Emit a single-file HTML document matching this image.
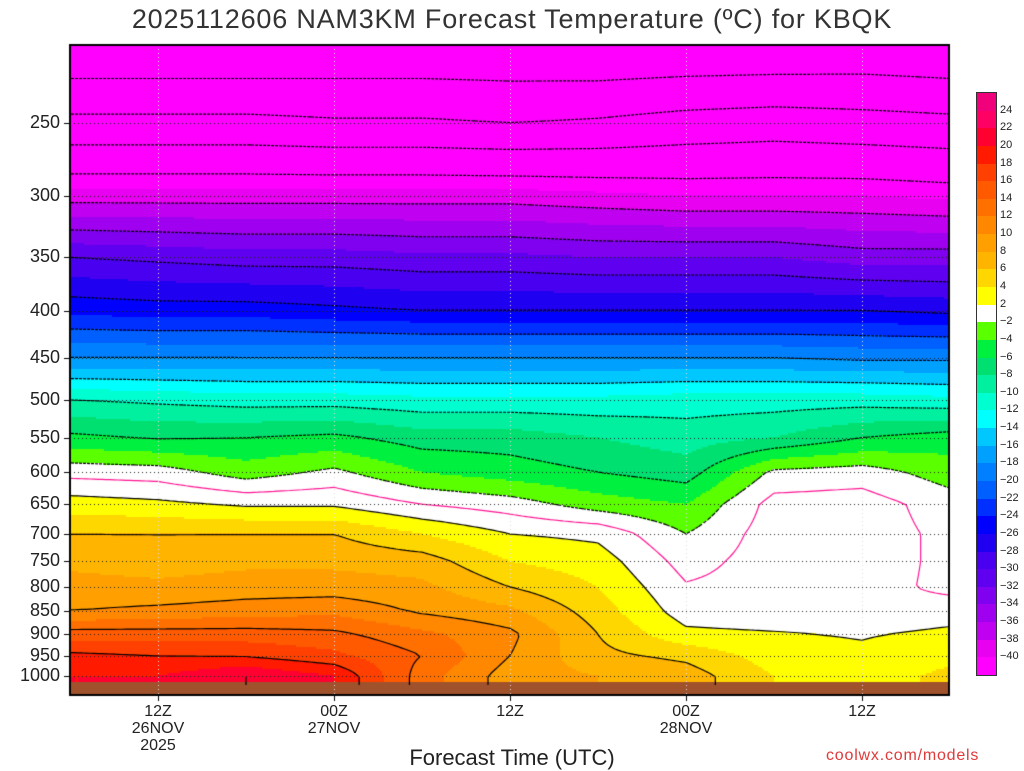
<!DOCTYPE html>
<html><head><meta charset="utf-8">
<style>
body{margin:0;background:#fff;width:1024px;height:768px;overflow:hidden;position:relative;font-family:"Liberation Sans",sans-serif}
.t{position:absolute;white-space:nowrap}
.yl{position:absolute;left:0;width:60px;text-align:right;font-size:18px;color:#222}
.xl{position:absolute;width:100px;text-align:center;font-size:16px;line-height:17px;color:#222}
</style></head><body>
<div class="t" style="left:0;width:1024px;text-align:center;top:4px;font-size:27px;color:#333;letter-spacing:0.8px">2025112606 NAM3KM Forecast Temperature (ºC) for KBQK</div>
<canvas id="cv" width="1024" height="768" style="position:absolute;left:0;top:0"></canvas>
<div id="labels"></div>
<div class="t" style="left:0;width:1024px;text-align:center;top:745px;font-size:22px;color:#222">Forecast Time (UTC)</div>
<div class="t" style="left:826px;top:747px;font-size:16px;color:#e03a3a;letter-spacing:0.8px">coolwx.com/models</div>
<div id="cbar"></div>
<script>
const levels=[1000,950,900,850,800,750,700,650,600,550,500,450,400,350,300,250,200];
const hours=[0,6,12,18,24,30,36,42,48,54,60];
const T1000=[20,20,22,20,13,9,8,7,4,3,4.5];
const T950=[18.5,18,17.8,16.5,14,10,6.5,5.5,3,2.5,3.5];
const T900=[15,15,15,14.5,12.5,10.5,6,2.5,2.2,1.8,2.5];
const T850=[10,10.5,11,11.5,9.7,8.5,5,1,0.6,0.3,1];
const T800=[8.8,8.5,9,9,8.5,6,4,0.2,0.8,0.8,-0.5];
const T750=[7.5,7,7.5,7.5,7,4,3,-0.8,1,1,-0.5];
const T700=[6,6,6,6,4,2,1.5,-2,1,1,-0.5];
const T650=[3,2.5,1.7,1.7,0,-1,-3,-4,0.8,1,-1];
const T600=[-0.7,-1,-3,-1.5,-4,-5,-6,-7,-1.5,-1,-3];
const T550=[-5.5,-6.2,-6,-5.5,-7,-7,-8,-9,-8,-6,-5];
const T500=[-10,-10.5,-11,-11,-11.5,-11.5,-11.5,-11,-11,-11,-11.5];
const T450=[-18,-18,-18,-18,-18,-18,-18,-18,-18,-18.5,-18.5];
const T400=[-24.6,-25,-25,-25.5,-26,-26,-26,-26,-26,-26,-26.5];
const T350=[-30,-30.5,-31,-31,-31.5,-31.5,-32,-32,-32,-33,-33];
const T300=[-39,-39,-39,-39,-39,-39,-39.5,-40,-40,-40,-40.5];
const T250=[-49,-49,-49,-49.5,-49.5,-50,-49.5,-48.5,-48,-48.5,-49];
const T200=[-59,-59,-59,-58.5,-58.5,-58.5,-59,-59,-59,-58.5,-59];
const field=[T1000,T950,T900,T850,T800,T750,T700,T650,T600,T550,T500,T450,T400,T350,T300,T250,T200];
const yTicks=[250,300,350,400,450,500,550,600,650,700,750,800,850,900,950,1000];
const xTicks=[[6,"12Z","26NOV","2025"],[18,"00Z","27NOV",""],[30,"12Z","",""],[42,"00Z","28NOV",""],[54,"12Z","",""]];
const edges=[-40,-38,-36,-34,-32,-30,-28,-26,-24,-22,-20,-18,-16,-14,-12,-10,-8,-6,-4,-2,2,4,6,8,10,12,14,16,18,20,22,24];
const colors=["#ff00ff","#e800f0","#c000f0","#a000f0","#8000f0","#6000f0","#4a00f0","#2000f0","#0000ff","#0030ff","#0060ff","#0080ff","#00a0ff","#00c8ff","#00ffff","#00ffd0","#00f0a0","#00e070","#00f040","#5aff00","#ffffff","#ffff00","#ffd700","#ffb400","#ffa000","#ff8800","#ff7000","#ff5a00","#ff4000","#ff1a00","#ff0030","#ff0064","#f0007a"];
(function(){
const X0=70,X1=949,Y0=45,Y1=695;
const xOf=h=>70+h*176/12, hOf=x=>(x-70)*12/176;
const yOf=p=>123+399*Math.log(p/250), pOf=y=>250*Math.exp((y-123)/399);
const lnL=levels.map(Math.log);
function Tv(x,y){
  let h=Math.max(0,Math.min(60,hOf(x)));let ti=Math.min(hours.length-2,Math.floor(h/6));let ft=(h-hours[ti])/6;
  let lp=Math.log(pOf(y));let li=0;
  if(lp<lnL[0]){while(li<levels.length-2&&lp<lnL[li+1])li++;}
  let fp=(lnL[li]-lp)/(lnL[li]-lnL[li+1]);fp=Math.max(0,Math.min(1,fp));
  const a=field[li][ti]*(1-ft)+field[li][ti+1]*ft, b=field[li+1][ti]*(1-ft)+field[li+1][ti+1]*ft;
  return a*(1-fp)+b*fp;
}
function col(v){let i=0;while(i<edges.length&&v>=edges[i])i++;return colors[i];}
const cv=document.getElementById('cv'),ctx=cv.getContext('2d');
const S=2;
for(let x=X0;x<X1;x+=S)for(let y=Y0;y<Y1;y+=S){ctx.fillStyle=col(Tv(x+1,y+1));ctx.fillRect(x,y,S,S);}
ctx.fillStyle="#a0522d";ctx.fillRect(X0,682,X1-X0,Y1-682);
const G=4,nx=Math.ceil((X1-X0)/G)+1,ny=Math.ceil((682-Y0)/G)+1;
const vals=[];for(let j=0;j<ny;j++){vals.push([]);for(let i=0;i<nx;i++)vals[j].push(Tv(X0+i*G,Y0+j*G));}
const clev=[];for(let c=-58;c<=22;c+=4)clev.push(c);clev.push(0);
ctx.lineWidth=1.2;
for(const c of clev){
  ctx.strokeStyle=c===0?"#ff1493":"#000";ctx.setLineDash(c<0?[3,2]:[]);
  ctx.beginPath();
  for(let j=0;j<ny-1;j++)for(let i=0;i<nx-1;i++){
    const v=[vals[j][i],vals[j][i+1],vals[j+1][i+1],vals[j+1][i]];
    const px=[X0+i*G,X0+(i+1)*G,X0+(i+1)*G,X0+i*G],py=[Y0+j*G,Y0+j*G,Y0+(j+1)*G,Y0+(j+1)*G];
    const pts=[];
    for(let k=0;k<4;k++){const a=v[k],b=v[(k+1)%4];if((a<c)!==(b<c)){const f=(c-a)/(b-a);pts.push([px[k]+(px[(k+1)%4]-px[k])*f,py[k]+(py[(k+1)%4]-py[k])*f]);}}
    for(let k=0;k+1<pts.length;k+=2){ctx.moveTo(pts[k][0],pts[k][1]);ctx.lineTo(pts[k+1][0],pts[k+1][1]);}
  }
  ctx.stroke();
}
ctx.setLineDash([]);
ctx.strokeStyle="#222";ctx.lineWidth=1;ctx.setLineDash([1,3]);
for(const p of yTicks){const y=Math.round(yOf(p))+0.5;ctx.beginPath();ctx.moveTo(X0,y);ctx.lineTo(X1,y);ctx.stroke();}
ctx.strokeStyle="#ddd";
for(const t of xTicks){const x=Math.round(xOf(t[0]))+0.5;ctx.beginPath();ctx.moveTo(x,Y0);ctx.lineTo(x,Y1);ctx.stroke();}
ctx.setLineDash([]);
ctx.strokeStyle="#000";ctx.lineWidth=2;ctx.strokeRect(X0,Y0,X1-X0,Y1-Y0);
ctx.lineWidth=1;
for(const p of yTicks){const y=Math.round(yOf(p))+0.5;ctx.beginPath();ctx.moveTo(X0-6,y);ctx.lineTo(X0,y);ctx.stroke();}
for(const t of xTicks){const x=Math.round(xOf(t[0]))+0.5;ctx.beginPath();ctx.moveTo(x,Y1);ctx.lineTo(x,Y1+6);ctx.stroke();}
const Lb=document.getElementById('labels');
for(const p of yTicks){const d=document.createElement('div');d.className='yl';d.style.top=(yOf(p)-11)+'px';d.textContent=p;


Lb.appendChild(d);}
for(const t of xTicks){const d=document.createElement('div');d.className='xl';d.style.left=(xOf(t[0])-50)+'px';d.style.top='703px';d.innerHTML=t.slice(1).filter(s=>s).join('<br>');


Lb.appendChild(d);}
const cb=document.getElementById('cbar');const cbTop=93,cbBot=675,n=colors.length,bh=(cbBot-cbTop)/n;
for(let k=0;k<n;k++){const d=document.createElement('div');d.style.cssText=`position:absolute;left:977px;width:19px;top:${cbTop+k*bh}px;height:${bh+0.5}px;background:${colors[n-1-k]}`;


cb.appendChild(d);}
const fr=document.createElement('div');fr.style.cssText=`position:absolute;left:976px;top:${cbTop-1}px;width:19px;height:${cbBot-cbTop}px;border:1px solid #333`;


cb.appendChild(fr);
for(let k=0;k<edges.length;k++){const e=edges[edges.length-1-k];const y=cbTop+(k+1)*bh;const d=document.createElement('div');d.className='t';d.style.cssText=`left:1000px;top:${y-7}px;font-size:11px;color:#222`;d.textContent=e<0?'\u2212'+(-e):e;


cb.appendChild(d);}
})();
</script>
</body></html>
